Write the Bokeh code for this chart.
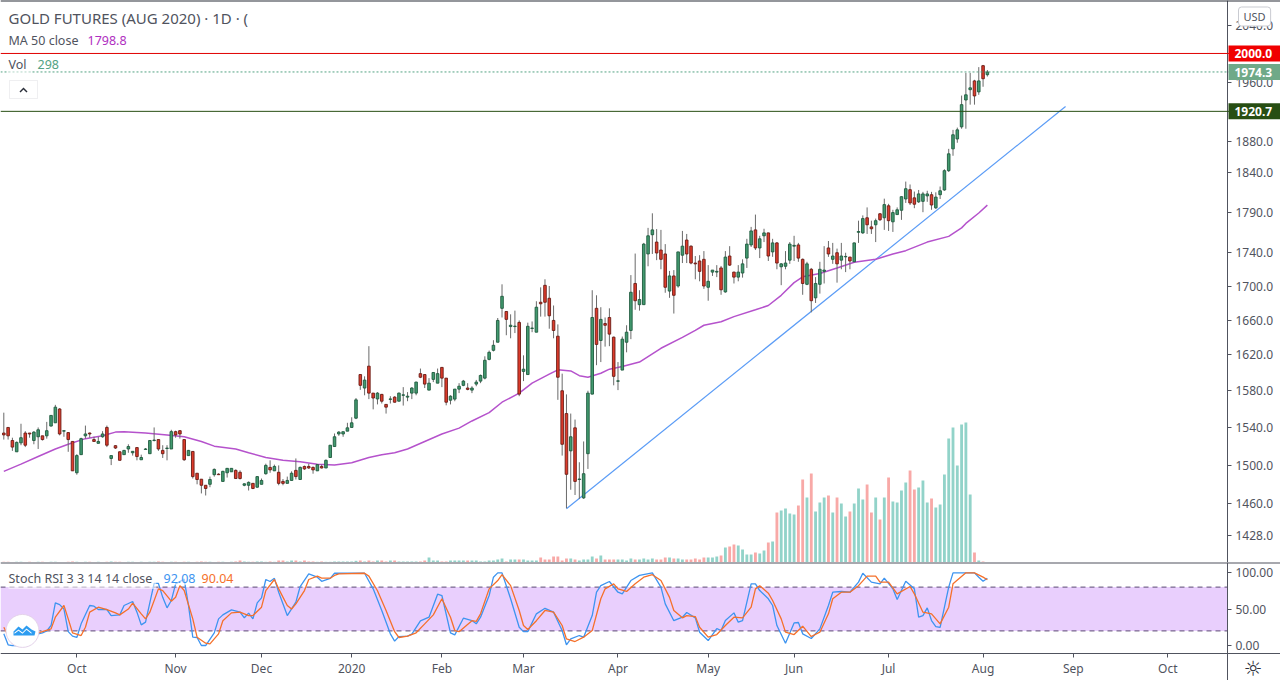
from bokeh.plotting import figure
from bokeh.models import (Range1d, Span, BoxAnnotation, Label, FixedTicker, PrintfTickFormatter,
                          ColumnDataSource, PolyAnnotation, LinearScale)
from bokeh.layouts import column
from bokeh.embed import file_html
from bokeh.resources import INLINE

opens = [1534,1540,1526,1514,1523.5,1534,1534,1526,1530,1531,
1531,1541.5,1545,1560,1536,1534.5,1525,1492,1511,1531,
1534,1527,1523,1530,1540,1507,1520.5,1514,1511,1517,
1513,1518.5,1505.6,1516.5,1512,1526,1527,1515.5,1517.5,1517,
1535.5,1536.5,1527,1510,1514.4,1491.5,1485.3,1479,1480,1490,
1490.5,1483,1492,1493,1494.5,1492.5,1479,1479,1481,1477,
1480,1491,1497.6,1494,1492.5,1483,1481,1484,1494.5,1485,
1498.6,1498.6,1497.6,1494,1498.6,1497,1508,1519.6,1533,
1533,1536,1540,1550,1598,1583,1607.4,1577.4,1571,1576,1565,
1570.5,1573,1568.5,1575,1573,1577.4,1577.4,1599,1598,1580.7,
1592.6,1588.4,1606,1594,1569.6,1570.8,1581.8,1586,1583,1580.7,
1587.4,1590.7,1594,1615,1625.3,1634.5,1673.7,1670,1652.5,1652.5,
1657.3,1601.5,1598,1650.3,1646,1680.8,1700.8,1685.5,1659.6,1641.4,
1580,1555,1515,1539.6,1485,1466,1512,1576.3,1673.7,1636.5,
1656,1663,1640.3,1590.5,1603,1634.5,1648,1703,1678,1678,
1738.5,1762,1753,1743.3,1738.5,1694,1712,1700,1737,1755.5,
1748,1727.5,1730,1732,1698.5,1716.6,1716.6,1721.6,1693,1736,
1716.6,1710.6,1715.5,1733.5,1749.5,1768,1745.8,1760.7,1764.3,1741,
1752,1723,1723.6,1731,1748,1749.5,1732,1702,1720,1686,
1702,1717.5,1745.8,1732,1740,1731,1735,1734.7,1729,1765,
1764.3,1783,1771.7,1774.3,1788,1783,1798,1778,1787,1792.4,
1806.6,1818.4,1808,1803,1803.6,1810.5,1812,1795.5,1812,1818,
1842.7,1871,1884,1900,1936,1950,1962,1947,1983,1970.5]

highs = [1556,1540,1529,1525,1544,1536,1534,1536,1540,1531,
1546,1553,1564.5,1561,1537,1535,1525,1511.5,1529,1542,
1534.5,1530,1530,1536,1542,1510,1521,1514.5,1516,1522,
1514.5,1518.5,1511,1518,1526.5,1540,1527,1521,1521,1537.5,
1536.5,1537,1527.5,1516,1514.5,1491.5,1485.5,1479,1488,1496.5,
1491.5,1494,1497,1496.6,1495.5,1494.5,1481,1483,1481,1488.5,
1486,1501.5,1505,1500.5,1499.7,1485.5,1488,1493.5,1507,1498.5,
1499.5,1501.5,1498.6,1500.5,1500.5,1506,1521,1533.5,1536,
1535.4,1545,1551,1572,1598,1596,1630,1577.5,1578.5,1576.5,1565,
1574,1574,1578,1584,1578.5,1584,1590,1604.7,1598,1594,
1600.5,1604.7,1606,1594,1575,1582,1588.4,1592,1588.4,1585,
1592,1598,1618.5,1625,1636.8,1662.4,1702,1670,1666.7,1671,
1659.6,1619.6,1657,1658.4,1682,1698.4,1708,1700,1677,1655,
1599,1576,1555,1548.5,1503,1525,1580,1695,1689,1675,
1663,1673.7,1641,1612,1641,1654,1713,1739,1695,1752,
1770.5,1788.6,1769,1768,1750.5,1718,1719,1741,1766.7,1763,
1749,1736,1737,1742,1725,1719,1725,1724,1742,1748,
1717,1725,1732,1757,1771.7,1787,1760.7,1769.4,1764.5,1757,
1753,1727.5,1742,1753,1760.7,1752,1733,1729,1721.6,1710.6,
1729,1748,1754.3,1752,1745,1752,1740,1735,1752.5,1779.4,
1786,1796,1779.4,1782,1789,1807,1800.5,1793,1796,1810,
1828.7,1825,1816,1818,1815.6,1817,1815.6,1815,1822.4,1844.5,
1871,1896,1899,1942,1973,1973,1963.5,1981,1984,1977]

lows = [1527,1527,1515,1514,1521,1519,1529,1522,1517,1526,
1528,1541,1545,1531.5,1530,1514,1494,1490,1511,1528,
1529,1525,1523,1529,1519,1500,1517,1505,1511,1513,
1510,1505,1505.6,1516,1512,1525,1515,1507.5,1505,1517,
1529,1528,1504.5,1510,1486,1480,1470.6,1468.5,1477,1488,
1490,1483,1487,1493,1486,1485,1478,1473.6,1475,1476.5,
1480,1490,1492,1494,1479,1479,1481,1484,1485,1485,
1495,1496,1491,1494,1496.5,1497,1508,1519.6,1531,
1530,1536,1540,1549,1581,1575,1570.8,1559.6,1565,1566,1555,
1566,1567,1568.5,1563.7,1568.5,1570.8,1575,1594,1583,1580.7,
1589.6,1588.4,1584,1564,1565,1568.5,1577.4,1585,1580.5,1577.4,
1585,1588.4,1592.6,1614,1624,1634.5,1663,1642.5,1639,1645,
1574,1590.7,1598,1646,1646,1664,1664,1650,1639,1570,
1510,1455.5,1474.4,1469,1465,1465,1496,1576,1608.5,1612,
1629.5,1630,1586,1580.7,1603,1623,1638,1672,1671,1678,
1723.6,1738.5,1731,1720,1692,1686,1667.6,1698,1727.5,1727.5,
1726,1708,1705.6,1696.6,1682.6,1712,1710.6,1689.6,1692,1724,
1703,1705.6,1710,1721.6,1747,1743.3,1733.5,1753,1730,1735,
1720,1701,1720,1726.5,1730,1729,1689.6,1701,1669,1680,
1691,1703,1735,1726.5,1704,1720,1716.6,1720,1729,1752,
1763,1763,1763,1753,1779,1768,1766.7,1765.5,1787,1780.4,
1801.6,1799,1795,1801.6,1790,1803,1793,1794,1806.6,1817,
1841,1862,1879,1897.5,1897.5,1929.7,1929.7,1943,1954,1968]

closes = [1532,1531,1519,1524,1529,1521,1533,1535,1537.5,1527,
1536.5,1553,1562,1533,1536.5,1527,1494,1510,1528,1533,
1533,1525,1525,1533,1521,1510,1518,1505,1515.5,1519.6,
1514.5,1509,1508,1517,1526,1526.5,1517,1512,1518,1535.5,
1532,1533,1505.6,1515.5,1488,1485,1479,1475.7,1485,1495.5,
1490,1493.5,1496.6,1496.6,1486,1486,1480.5,1482,1475.7,1488,
1484,1499.7,1495,1498.6,1481,1481,1484,1491.5,1488,1497.6,
1496,1497,1495,1500.5,1497,1505,1521,1530,1535,
1535.4,1539.6,1545,1570,1586,1591.8,1577.4,1572,1577.4,1568.5,1562,
1571,1567.4,1577.4,1575.5,1574,1583,1589.6,1595,1587.4,1588.4,
1600.3,1599,1594,1567.4,1574,1581.8,1585,1590.7,1581.5,1583,
1589.6,1597,1614,1623,1631,1659.6,1687.8,1660.8,1654,1653,
1576.3,1604,1652.8,1650.8,1675,1679,1680.8,1665,1648,1595,
1522,1490.4,1530,1483,1485.5,1491,1577.4,1663,1632,1660.8,
1654,1643.8,1596,1591,1638,1646,1692.6,1682.6,1684,1750.5,
1760.7,1768,1739.7,1732,1698.5,1712,1689,1741,1748,1738.5,
1727.5,1726.5,1717.5,1700,1705.6,1719,1717.5,1695.5,1734.7,1725,
1710.6,1716.6,1726.5,1750.5,1766.7,1745.8,1757,1764.3,1736,1752,
1727.5,1726.5,1727.5,1750.5,1749,1733.5,1703,1726.5,1682.6,1703,
1720,1719,1738.5,1736,1726.5,1736,1735.5,1730,1752,1766,
1782,1774.3,1769.4,1779.4,1780.6,1799.5,1779.4,1789.5,1793,1809.5,
1819.6,1801.6,1800,1813,1813,1813,1799,1809,1817,1842.7,
1864.5,1889.5,1896,1929.7,1943,1952.5,1941.5,1962,1965,1974.3]

volumes_autumn = [1600,1600,800,1600,1600,800,1600,800,1600,1600,
800,1600,1600,800,800,1600,2400,1600,800,1600,
1600,800,1600,800,1600,2400,1600,1600,800,1600,
1600,800,1600,800,1600,1600,2400,1600,800,1600,
1600,800,1600,1600,800,1600,2400,1600,1600,800,
1600,1600,800,1600,2400,4800,2400,1600,1600,2400,
2400,1600,2400,1600,4800,4800,2400,4800,4800,2400,
4800,2400,2400,1600,2400,1600,1600,2400,2400]
volumes_spring = [2400,2400,2400,4000,4800,2400,4800,2400,4800,4800,
2400,4800,4800,2400,2400,2400,2400,2400,2400,4800,
12000,4800,4800,2400,2400,4800,4800,4800,4800,4800,
4800,4800,2400,2400,4800,4800,7200,9600,2400,7200,
7200,7200,7200,4800,4800,4800,12000,7200,7200,14400,
14400,4800,9600,9600,7200,4800,7200,7200,14400,9600,
16800,7200,7200,7200,7200,7200,4800,9600,7200,7200,
9600,7200,9600,7200,7200,12000,12000,9600,9600]
volumes_summer = [7200,7200,7200,9600,7200,12000,12000,12000,14400,16800,
36000,38400,43200,40800,31200,19200,19200,24000,21600,28800,
48000,50400,120000,124800,129600,117600,115200,136800,199200,156000,
213600,122400,144000,156000,160800,120000,156000,141600,110400,122400,
141600,177600,151200,187200,120000,156000,103200,156000,204000,146400,
144000,172800,192000,220800,175200,180000,196800,144000,153600,132000,
139200,211200,297600,324000,232800,331200,336000,163200,24000,4800,
2400,298]

ma_bars = [0,4,8,12,15,19,23,26,28,33,38,42,46,49,54,57,61,65,69,73,77,
81,85,88,91,94,98,102,106,109,113,116,120,123,127,129,132,134,136,139,141,144,148,153,158,
161,163,167,170,175,178,181,184,186,190,194,198,203,207,210,215,220,223,224,227,229]
ma_values = [1493.5,1501,1509,1517,1522,1528,1531,1535,1535.5,1534,1532,1530,1525,1520,1517,1513,1508,1505,1503.5,1501,1500,
1502.5,1508,1511,1513,1517,1525,1533,1539.3,1547,1556,1567.4,1577.4,1588.5,1598.5,1603.3,1602,1596.7,1595,1599.5,1604,1607,1612,1627.6,1640,
1648,1654,1658,1664,1672,1677,1689,1704,1711,1715,1721.6,1728.5,1732,1738.5,1742.5,1753,1760,1770.5,1776,1789,1798.8]

k_bars = [0,1,2,3,5,7,9,10,11,12,13,14,15,16,17,18,20,21,22,24,25,27,28,30,31,32,33,35,36,37,38,39,40,42,43,44,45,46,47,49,50,51,53,55,56,57,58,59,60,61,62,63,64,66,68,69,71,73,74,76,77,
78,84,86,88,90,91,92,94,95,97,99,101,102,104,105,107,109,110,111,113,114,115,116,118,120,121,122,124,126,128,130,131,132,134,135,137,138,139,141,143,144,146,148,151,153,154,156,
158,159,161,162,164,166,167,168,170,171,172,174,175,176,178,179,180,182,184,185,186,188,190,192,193,195,197,199,200,202,204,205,207,208,210,212,213,214,215,216,217,218,220,221,226,227,228,229]
k_values = [16,1,0,0,4.6,14.6,17.4,20,27.4,58.4,56,50,19,12.8,11,29.7,54.8,53.9,49.3,49.3,41,42,54.8,60.3,45.7,28.3,32,85,85,66,51.6,61.6,84.5,91,54.8,11.4,11,0,0,17.4,36.5,42,48.9,45.7,38,44.3,36.5,58.4,65.3,90.4,87.7,92,73,41,59.4,80.8,98,93.6,88,92,99,
99,99,77.6,48,16,6,12.3,12.8,15.5,33.8,38.8,70.3,68.5,17.4,14.6,37.4,34.2,29.7,38.8,68.5,93.6,99.5,99.5,64,25,19,19,43.4,51,45.7,20.5,1,9,13.7,11.4,41,73,82,87.7,73,70.8,89,96,99.5,80,57,34,
38.8,45.2,37.9,18.3,6.8,23.3,20.5,34.2,44.7,32,34.2,84.5,84.5,75.3,64,54.8,27.4,3.2,31,31.5,16,9.6,22.8,54.8,73,74,73,86.8,99,86.8,84.5,92.2,77.6,63,88,77.6,38.8,41,51.6,34.2,26,25,80,99.5,99.5,93.6,88,92.08]

d_bars = [0,1,2,3,5,8,9,11,12,14,15,16,18,19,20,22,24,26,27,29,30,32,33,34,36,37,39,40,41,42,44,45,47,48,50,51,53,55,57,58,60,61,63,64,66,67,68,70,71,73,74,76,77,
78,84,85,87,89,91,92,94,96,98,100,102,104,105,106,109,110,111,113,115,116,118,120,121,122,124,126,128,130,131,133,135,137,139,140,142,143,145,147,149,151,153,155,156,
158,159,161,162,164,166,168,170,172,174,175,176,178,179,181,182,184,186,188,190,192,193,195,197,199,201,203,204,206,208,211,212,214,216,218,220,221,224,226,228,229]
d_values = [25,13.7,3.7,0,4.6,17.4,19,22.8,38.8,54.8,36.5,17.4,13.7,25,45.7,52.5,49.3,44.7,42,50,58,43.4,36.5,45.7,77.6,75.3,60.7,66,82,75.3,36.5,11.4,3.2,2.3,16,34,44.7,45.7,41,41,52.5,75.3,90.4,77.6,54.8,50,57,75.3,90.4,95,92.2,92.2,96,
98,99,95,75,48,19,11,12.8,17.4,29.7,42,64,38.8,20.5,19,34,33,43.4,77.6,89,97,82,48,27.4,22,34,48,45.7,27.4,9,5.5,11.4,20.5,64,77.6,84.5,77.6,74,84.5,93.6,97,89,66,48,
37.9,41,39.7,25,11.4,15,27.4,38.8,37.9,52.5,77.6,82,71.7,61.6,36.5,18.3,15,26.5,12.3,18.3,43.4,64,73,73,82,95,95,86.8,86.8,70.8,80.8,70.8,45.7,43.4,29.7,52.5,84.5,99.5,99.5,93.6,90.04]

trend_bars = [131, 247.2]
trend_prices = [1455, 1927.2]

price_ticks = [1428,1460,1500,1540,1580,1620,1660,1700,1740,1790,1840,1880,1960,2040]
stoch_ticks = [0,50,100]
month_bars = [17,40,60,81,102,121,143,164,184,206,228,249,271]
month_labels = ["Oct","Nov","Dec","2020","Feb","Mar","Apr","May","Jun","Jul","Aug","Sep","Oct"]

level_red = 2000.0
level_last = 1974.3
level_green = 1920.7
band = [20, 80]

volumes = volumes_autumn + volumes_spring + volumes_summer
n = len(opens)
assert len(highs) == n and len(lows) == n and len(closes) == n and len(volumes) == n
assert len(ma_bars) == len(ma_values) and len(k_bars) == len(k_values) and len(d_bars) == len(d_values)

UP, DOWN = "#429a6f", "#de3b2b"
UP_EDGE, DOWN_EDGE = "#1f5a3e", "#6a1c15"
VOL_UP, VOL_DOWN = "#92d3c9", "#f8a9a7"
TEXT = "#50535e"
AXIS = "#50535e"
FONT = "Noto Sans"
BLUE, ORANGE, PURPLE, TEAL = "#3d94f0", "#f5702a", "#b02fc1", "#53a283"

bars = list(range(n))
up = [c >= o for o, c in zip(opens, closes)]
source = ColumnDataSource(dict(
    bar=bars, open=opens, high=highs, low=lows, close=closes, volume=volumes,
    top=[max(o, c) for o, c in zip(opens, closes)],
    bottom=[min(o, c) for o, c in zip(opens, closes)],
    fill=[UP if u else DOWN for u in up],
    edge=[UP_EDGE if u else DOWN_EDGE for u in up],
    volcolor=[VOL_UP if u else VOL_DOWN for u in up],
))

X0, X1, X_AXIS = -0.77, 297.25, 284.9
WIDTH = 1280
MAIN_H = 562
STOCH_H = 118
PRICE_TOP = 2075.4
STOCH_TOP, STOCH_BOTTOM, STOCH_AXIS = 113.7, -47.9, -11

x_range = Range1d(X0, X1)


def style_axis(ax):
    ax.axis_line_color = AXIS
    ax.major_tick_line_color = AXIS
    ax.minor_tick_line_color = None
    ax.major_tick_out = 4
    ax.major_tick_in = 0
    ax.major_label_standoff = 4
    ax.major_label_text_color = TEXT
    ax.major_label_text_font = FONT
    ax.major_label_text_font_size = "12px"


main = figure(width=WIDTH, height=MAIN_H, x_range=x_range, y_range=Range1d(1401.3, PRICE_TOP),
              y_axis_type="log", y_axis_location="right", output_backend="svg", toolbar_location=None,
              min_border=0, min_border_left=0, min_border_right=0, min_border_top=0, min_border_bottom=0)
main.extra_y_ranges = {"vol": Range1d(0, 1348800)}
main.extra_y_scales = {"vol": LinearScale()}
main.outline_line_color = None
main.grid.visible = False
main.xaxis.visible = False
ya = main.yaxis[0]
ya.ticker = FixedTicker(ticks=price_ticks)
ya.formatter = PrintfTickFormatter(format="%.1f")
ya.fixed_location = X_AXIS
style_axis(ya)

main.vbar(x="bar", top="volume", bottom=0, width=0.66, source=source, y_range_name="vol",
          fill_color="volcolor", line_color=None)
main.line(trend_bars, trend_prices, line_color="#5b9cf6", line_width=1.2)
main.line(ma_bars, ma_values, line_color="#b552cc", line_width=1.5)
main.segment(x0="bar", x1="bar", y0="low", y1="high", source=source, line_color="#6a6a6a", line_width=1)
main.vbar(x="bar", top="top", bottom="bottom", width=0.6, source=source,
          fill_color="fill", line_color="edge", line_width=0.9)

main.add_layout(Span(location=level_red, dimension="width", line_color="#e00000", line_width=1))
main.add_layout(Span(location=level_green, dimension="width", line_color="#274e13", line_width=1))
main.add_layout(Span(location=level_last, dimension="width", line_color=TEAL, line_width=1, line_dash=[2, 2]))
main.add_layout(Span(location=PRICE_TOP, dimension="width", line_color="#2a2e39", line_width=2))


def text(fig, x, y_ref, s, color=TEXT, size="12.5px", bottom=562, backdrop=False, font=FONT):
    extra = dict(background_fill_color="white", background_fill_alpha=0.55, padding=(0, 4, 2, 2)) if backdrop else {}
    fig.add_layout(Label(x=x, y=bottom - y_ref, x_units="screen", y_units="screen", text=s,
                         text_color=color, text_font=font, text_font_size=size,
                         text_align="left", text_baseline="middle", **extra))


def poly(fig, pts, bottom, **kw):
    fig.add_layout(PolyAnnotation(xs=[p[0] for p in pts], ys=[bottom - p[1] for p in pts],
                                  xs_units="screen", ys_units="screen", **kw))


text(main, 8, 17, "GOLD FUTURES (AUG 2020) · 1D · (", size="15px")
text(main, 8, 40, "MA 50 close", backdrop=True)
text(main, 87, 40, "1798.8", color=PURPLE, backdrop=True)
text(main, 8, 64, "Vol", backdrop=True)
text(main, 37, 64, "298", color=TEAL, backdrop=True)


def badge(level, color):
    main.add_layout(Label(x=1228, y=level, x_units="screen", y_units="data", text=f"{level:.1f}",
                          text_color="white", text_font=FONT, text_font_size="12px", text_font_style="bold",
                          text_baseline="middle", text_align="left",
                          background_fill_color=color, padding=(6, 8, 4, 3)))


badge(level_red, "#f00000")
badge(level_last, "#6fa988")
badge(level_green, "#274e13")

main.add_layout(Label(x=1238, y=562 - 16, x_units="screen", y_units="screen", text="USD",
                      text_color=TEXT, text_font=FONT, text_font_size="11px", text_baseline="middle",
                      background_fill_color="white", border_line_color="#c9cbd1", border_radius=3,
                      padding=(5, 5, 2, 2)))
poly(main, [(9, 80), (37, 80), (37, 98), (9, 98)], 562, fill_color="white", fill_alpha=0.7,
     line_color="#c9cbd1", line_width=1)
poly(main, [(19, 91), (23, 87), (27, 91), (26, 92), (23, 89), (20, 92)], 562,
     fill_color="#2a2e39", fill_alpha=1, line_color=None)

stoch = figure(width=WIDTH, height=STOCH_H, x_range=x_range, y_range=Range1d(STOCH_BOTTOM, STOCH_TOP),
               y_axis_location="right", output_backend="svg", toolbar_location=None,
               min_border=0, min_border_left=0, min_border_right=0, min_border_top=0, min_border_bottom=0)
stoch.outline_line_color = None
stoch.grid.visible = False
stoch.add_layout(BoxAnnotation(left=X0, right=X_AXIS, bottom=band[0], top=band[1],
                               fill_color="#e9cffd", fill_alpha=1, line_color=None, level="underlay"))
for lvl in band:
    stoch.line([X0, X_AXIS], [lvl, lvl], line_color="#5b4a73", line_width=1, line_dash=[5, 4])
stoch.add_layout(Span(location=STOCH_TOP, dimension="width", line_color=AXIS, line_width=2))
stoch.line(k_bars, k_values, line_color=BLUE, line_width=1.3)
stoch.line(d_bars, d_values, line_color=ORANGE, line_width=1.3)

sy = stoch.yaxis[0]
sy.ticker = FixedTicker(ticks=stoch_ticks)
sy.formatter = PrintfTickFormatter(format="%.2f")
sy.fixed_location = X_AXIS
style_axis(sy)
xa = stoch.xaxis[0]
xa.ticker = FixedTicker(ticks=month_bars)
xa.major_label_overrides = dict(zip(month_bars, month_labels))
xa.fixed_location = STOCH_AXIS
style_axis(xa)
xa.major_label_standoff = 2

B = 680
text(stoch, 8, 578, "Stoch RSI 3 3 14 14 close", bottom=B, backdrop=True)
text(stoch, 163, 578, "92.08", color=BLUE, bottom=B, backdrop=True)
text(stoch, 201, 578, "90.04", color=ORANGE, bottom=B, backdrop=True)

stoch.scatter([4.35], [20], size=33, fill_color="white", line_color="#e4d3ea", line_width=1)
poly(stoch, [(13, 631), (18, 626), (22, 629), (26, 625), (31, 629), (35, 631), (34, 635), (13, 635)], B,
     fill_color="#2d9cf0", fill_alpha=1, line_color=None)
poly(stoch, [(14, 632), (18, 629), (22, 632), (26, 628), (31, 632), (31, 633.3), (26, 629.3), (22, 633.3), (18, 630.3), (14, 633.3)], B,
     fill_color="white", fill_alpha=1, line_color=None)
stoch.add_layout(Label(x=1243, y=B - 668, x_units="screen", y_units="screen", text="☼",
                       text_color="#2a2e39", text_font="DejaVu Sans", text_font_size="21px", text_baseline="middle"))

page = column(main, stoch, spacing=0)
open("out.html", "w").write(file_html(page, INLINE))
